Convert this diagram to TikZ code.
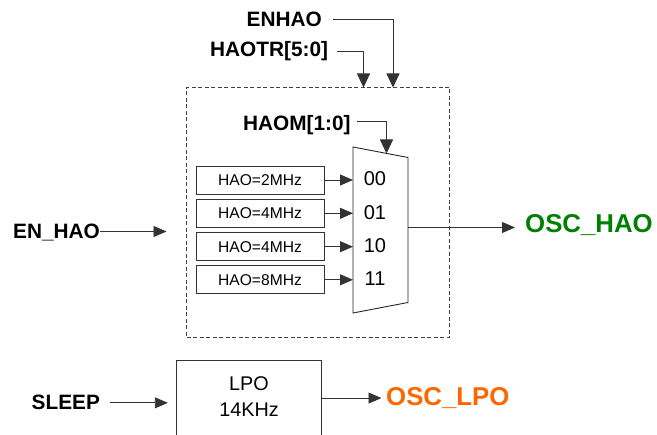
\documentclass[tikz,border=0pt]{standalone}
\usepackage{fontspec}
\setmainfont{Liberation Sans}
\usetikzlibrary{arrows.meta}
\definecolor{oscgreen}{RGB}{0,128,0}
\definecolor{oscorange}{RGB}{255,102,0}
\begin{document}
\begin{tikzpicture}[x=1pt,y=-1pt,
  lbl/.style={font=\fontsize{20.8}{24}\selectfont\bfseries, inner sep=0pt, anchor=base west},
  osc/.style={font=\fontsize{25.8}{28}\selectfont\bfseries, inner sep=0pt, anchor=base west},
  inbox/.style={draw=black!80, line width=0.9pt, minimum width=128pt, minimum height=28pt, inner sep=0pt, font=\fontsize{15.6}{17}\selectfont},
  sel/.style={font=\fontsize{20}{22}\selectfont, inner sep=0pt, anchor=base},
  plain/.style={font=\fontsize{19.8}{22}\selectfont, inner sep=0pt},
  arr/.style={draw=black!80, line width=0.9pt, -{Triangle[length=13pt,width=11pt]}},
  darr/.style={draw=black!80, line width=0.9pt, -{Triangle[length=14pt,width=13pt]}},
  dbox/.style={draw=black!75, line width=0.9pt, dash pattern=on 4pt off 2.5pt, minimum width=263pt, minimum height=250pt, inner sep=0pt},
]
\useasboundingbox (0,0) rectangle (657,435);
\clip (0,0) rectangle (657,435);

% top control labels
\node[lbl] (enhao) at (246.5,26.5) {ENHAO};
\node[lbl] (haotr) at (210,56.5) {HAOTR[5:0]};

% dashed HAO block
\node[dbox] (hao) at (318,212.5) {};
\coordinate (enin) at (393,87.5);
\coordinate (trin) at (363.5,87.5);
\draw[darr] ([xshift=11pt]enhao.east) -| (enin);
\draw[darr] ([xshift=9pt]haotr.east) -| (trin);

% mux
\coordinate (mtl) at (353,147);
\coordinate (mtr) at (408,157.5);
\coordinate (mbr) at (408,302.5);
\coordinate (mbl) at (353,313);
\draw[black!85, line width=0.9pt, fill=white] (mtl) -- (mtr) -- (mbr) -- (mbl) -- cycle;
\coordinate (muxsel) at (386.5,153.5);
\coordinate (muxout) at (408,227.5);

\node[lbl] (haom) at (243,131) {HAOM[1:0]};
\draw[darr] ([xshift=6pt,yshift=4pt]haom.east) -| (muxsel);

% inputs
\node[inbox] (b1) at (260,180) {HAO=2MHz};
\node[inbox] (b2) at (260,213.3) {HAO=4MHz};
\node[inbox] (b3) at (260,246.7) {HAO=4MHz};
\node[inbox] (b4) at (260,279.8) {HAO=8MHz};
\foreach \b in {b1,b2,b3,b4}{
  \draw[arr] (\b.east) -- (\b.east -| mtl);
}
\node[sel] (s00) at (375,186) {00};
\node[sel] (s01) at (375,219.5) {01};
\node[sel] (s10) at (375,252.5) {10};
\node[sel] (s11) at (375,285.5) {11};

% output
\node[osc, text=oscgreen] (oschao) at (525,232.5) {OSC\_HAO};
\draw[arr, shorten >=10pt] (muxout) -- (muxout -| oschao.west);

% EN_HAO
\node[lbl] (enh) at (13,238.5) {EN\_HAO};
\coordinate (enhtip) at (166.5,231.5);
\draw[arr] (enh.east |- enhtip) -- (enhtip);

% LPO
\node[draw=black!80, line width=0.9pt, minimum width=144.5pt, minimum height=82pt, inner sep=0pt] (lpo) at (249,401) {};
\node[plain] (lpot1) at (249,383.5) {LPO};
\node[plain] (lpot2) at (249,409.5) {14KHz};
\node[lbl] (sleep) at (31.5,410) {SLEEP};
\draw[arr, shorten >=8.5pt] ([xshift=10pt]sleep.east) -- (sleep.east -| lpo.west);
\node[osc, text=oscorange] (osclpo) at (386,405.5) {OSC\_LPO};
\draw[arr, shorten >=4.5pt] (osclpo.west -| lpo.east) -- (osclpo.west);
\end{tikzpicture}
\end{document}
